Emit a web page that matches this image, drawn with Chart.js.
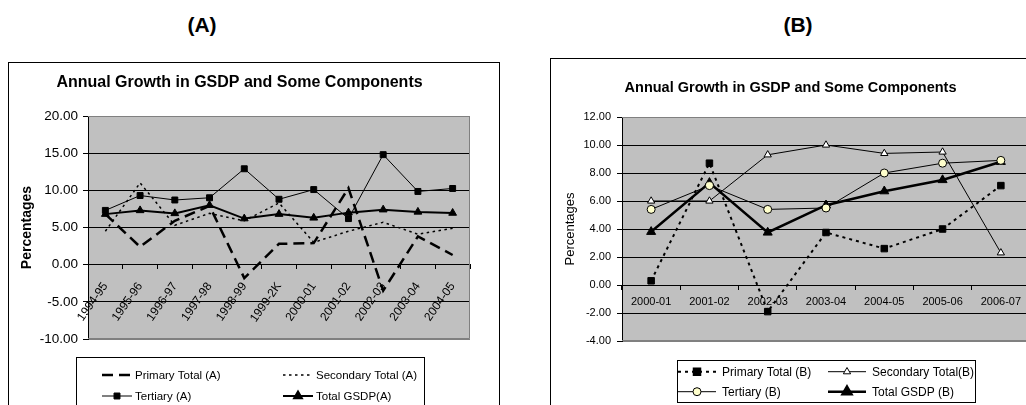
<!DOCTYPE html>
<html>
<head>
<meta charset="utf-8">
<script src="https://cdn.jsdelivr.net/npm/chart.js@4.4.0/dist/chart.umd.min.js"></script>
<style>
  html, body { margin:0; padding:0; background:#fff; width:1026px; height:405px; overflow:hidden; font-family:"Liberation Sans", Arial, sans-serif; }
  .tag { position:absolute; top:13px; width:80px; text-align:center; font-weight:bold; font-size:21px; line-height:24px; }
  .box { position:absolute; border:1px solid #000; background:#fff; }
  .box canvas { display:block; }
</style>
</head>
<body>
<div class="tag" style="left:162px">(A)</div>
<div class="tag" style="left:758px">(B)</div>
<div class="box" style="left:8px; top:62px; width:490px; height:358px;"><canvas id="chartA" width="490" height="358"></canvas></div>
<div class="box" style="left:550px; top:58px; width:489px; height:360px;"><canvas id="chartB" width="489" height="360"></canvas></div>
<script>
// chart (A) values
const catsA = ['1994-95', '1995-96', '1996-97', '1997-98', '1998-99', '1999-2K',
               '2000-01', '2001-02', '2002-03', '2003-04', '2004-05'];
const primaryA   = [6.8, 2.4, 5.9, 7.9, -1.8, 2.8, 2.9, 10.3, -3.5, 3.8, 1.3];
const secondaryA = [4.5, 11.0, 5.3, 6.9, 5.9, 8.3, 3.0, 4.5, 5.7, 4.1, 4.9];
const tertiaryA  = [7.3, 9.3, 8.7, 9.0, 12.9, 8.8, 10.1, 6.2, 14.8, 9.85, 10.25];
const gsdpA      = [6.8, 7.3, 6.9, 8.0, 6.2, 6.8, 6.3, 7.0, 7.4, 7.1, 6.95];
const ticksA = [-10, -5, 0, 5, 10, 15, 20];

// chart (B)
const catsB = ['2000-01', '2001-02', '2002-03', '2003-04', '2004-05', '2005-06', '2006-07'];
const primaryB   = [0.3, 8.7, -1.9, 3.75, 2.6, 4.0, 7.1];
const secondaryB = [6.0, 6.0, 9.3, 10.0, 9.4, 9.5, 2.3];
const tertiaryB  = [5.4, 7.1, 5.4, 5.5, 8.0, 8.7, 8.9];
const gsdpB      = [3.8, 7.3, 3.75, 5.7, 6.7, 7.5, 8.8];
const ticksB = [-4, -2, 0, 2, 4, 6, 8, 10, 12];

Chart.defaults.font.family = '"Liberation Sans", Arial, sans-serif';
Chart.defaults.color = '#000';

// grey plot area with a grey frame, like the spreadsheet chart
const plotFrame = {
    id: 'plotFrame',
    beforeDraw(chart) {
        const {ctx, chartArea: a} = chart;
        ctx.save();
        ctx.fillStyle = '#c0c0c0';
        ctx.fillRect(a.left, a.top, a.right - a.left, a.bottom - a.top);
        ctx.restore();
    },
    beforeDatasetsDraw(chart) {
        const {ctx, chartArea: a} = chart;
        ctx.save();
        ctx.strokeStyle = '#808080';
        ctx.lineWidth = 1;
        ctx.beginPath();
        ctx.moveTo(a.left, a.top + 0.5);
        ctx.lineTo(a.right - 0.5, a.top + 0.5);
        ctx.lineTo(a.right - 0.5, a.bottom - 0.5);
        ctx.lineTo(a.left, a.bottom - 0.5);
        ctx.stroke();
        ctx.restore();
    }
};

// boxed legend with line + marker samples
const boxLegend = {
    id: 'boxLegend',
    afterDraw(chart, args, opts) {
        const ctx = chart.ctx;
        ctx.save();
        ctx.strokeStyle = '#000';
        ctx.lineWidth = 1;
        ctx.setLineDash([]);
        ctx.strokeRect(opts.box[0] + 0.5, opts.box[1] + 0.5, opts.box[2], opts.box[3]);
        ctx.font = opts.fontSize + 'px "Liberation Sans", Arial, sans-serif';
        ctx.textBaseline = 'middle';
        ctx.fillStyle = '#000';
        chart.data.datasets.forEach((ds, i) => {
            const x = opts.cols[i % 2];
            const y = opts.rows[Math.floor(i / 2)];
            ctx.strokeStyle = '#000';
            ctx.lineWidth = ds.borderWidth;
            ctx.setLineDash(ds.borderDash || []);
            ctx.beginPath();
            ctx.moveTo(x, y);
            ctx.lineTo(x + opts.lineLen, y);
            ctx.stroke();
            ctx.setLineDash([]);
            if (ds.pointRadius > 0) {
                ctx.fillStyle = ds.pointBackgroundColor;
                ctx.strokeStyle = ds.pointBorderColor;
                Chart.helpers.drawPoint(ctx, {
                    pointStyle: ds.pointStyle, radius: ds.pointRadius,
                    borderWidth: ds.pointBorderWidth, rotation: 0
                }, x + opts.lineLen / 2, y);
            }
            ctx.fillStyle = '#000';
            ctx.fillText(ds.label, x + opts.lineLen + opts.gap, y + 0.5);
        });
        ctx.restore();
    }
};

function line(label, data, o) {
    return Object.assign({
        label, data,
        borderColor: '#000', backgroundColor: '#000',
        pointBorderColor: '#000', pointBackgroundColor: '#000',
        pointBorderWidth: 1, pointRadius: 0, borderWidth: 1,
        tension: 0, fill: false
    }, o);
}

function yGrid(lo, hi) {
    return {
        color: c => (c.tick && (c.tick.value === lo || c.tick.value === hi)) ? '#808080' : '#000',
        tickColor: '#000', tickLength: 5, lineWidth: 1
    };
}

new Chart(document.getElementById('chartA'), {
    type: 'line',
    data: {
        labels: catsA,
        datasets: [
            line('Primary Total (A)', primaryA, {borderWidth: 2.5, borderDash: [11, 6]}),
            line('Secondary Total (A)', secondaryA, {borderWidth: 1.5, borderDash: [2.5, 3.5]}),
            line('Tertiary (A)', tertiaryA, {pointStyle: 'rect', pointRadius: 4.2}),
            line('Total GSDP(A)', gsdpA, {borderWidth: 2, pointStyle: 'triangle', pointRadius: 4.5})
        ]
    },
    options: {
        responsive: false,
        animation: false,
        devicePixelRatio: 1,
        layout: {padding: {left: 0, right: 29, top: 0, bottom: 82}},
        plugins: {
            legend: {display: false},
            tooltip: {enabled: false},
            title: {
                display: true, text: 'Annual Growth in GSDP and Some Components',
                color: '#000', font: {size: 16, weight: 'bold'},
                padding: {top: 10.4, bottom: 23.4}
            },
            boxLegend: {
                box: [67, 294, 348, 80], cols: [93, 274], rows: [312, 333],
                lineLen: 30, gap: 3, fontSize: 11.5
            }
        },
        scales: {
            x: {
                position: {y: 0}, offset: true,
                grid: {drawOnChartArea: false, drawTicks: true, tickLength: 4, offset: true, tickColor: '#000'},
                border: {display: true, color: '#000'},
                ticks: {color: '#000', font: {size: 12}, minRotation: 55, maxRotation: 55, autoSkip: false, padding: 11}
            },
            y: {
                min: ticksA[0], max: ticksA[ticksA.length - 1],
                afterBuildTicks: s => { s.ticks = ticksA.map(v => ({value: v})); },
                afterFit: s => { s.width = 79; },
                grid: yGrid(ticksA[0], ticksA[ticksA.length - 1]),
                border: {color: '#000'},
                ticks: {color: '#000', font: {size: 13.5}, padding: 5, callback: v => Number(v).toFixed(2)},
                title: {display: true, text: 'Percentages', color: '#000', font: {size: 14, weight: 'bold'}, padding: {top: 9.6}}
            }
        }
    },
    plugins: [plotFrame, boxLegend]
});

new Chart(document.getElementById('chartB'), {
    type: 'line',
    data: {
        labels: catsB,
        datasets: [
            line('Primary Total (B)', primaryB, {borderWidth: 2, borderDash: [3, 4], pointStyle: 'rect', pointRadius: 4.6}),
            line('Secondary Total(B)', secondaryB, {pointStyle: 'triangle', pointRadius: 4.2, pointBackgroundColor: '#fff'}),
            line('Tertiary (B)', tertiaryB, {pointStyle: 'circle', pointRadius: 4, pointBackgroundColor: '#ffffcc'}),
            line('Total GSDP (B)', gsdpB, {borderWidth: 2.5, pointStyle: 'triangle', pointRadius: 5.2})
        ]
    },
    options: {
        responsive: false,
        animation: false,
        devicePixelRatio: 1,
        layout: {padding: {left: 0, right: 10, top: 0, bottom: 78}},
        plugins: {
            legend: {display: false},
            tooltip: {enabled: false},
            title: {
                display: true, text: 'Annual Growth in GSDP and Some Components',
                color: '#000', font: {size: 14.5, weight: 'bold'},
                padding: {top: 20.6, bottom: 20}
            },
            boxLegend: {
                box: [126, 301, 298, 42], cols: [127, 277], rows: [312.7, 332.7],
                lineLen: 38, gap: 6, fontSize: 12
            }
        },
        scales: {
            x: {
                position: {y: 0}, offset: true,
                grid: {drawOnChartArea: false, drawTicks: true, tickLength: 4, offset: true, tickColor: '#000'},
                border: {display: true, color: '#000'},
                ticks: {color: '#000', font: {size: 11}, maxRotation: 0, autoSkip: false, padding: 6}
            },
            y: {
                min: ticksB[0], max: ticksB[ticksB.length - 1],
                afterBuildTicks: s => { s.ticks = ticksB.map(v => ({value: v})); },
                afterFit: s => { s.width = 71; },
                grid: yGrid(ticksB[0], ticksB[ticksB.length - 1]),
                border: {color: '#000'},
                ticks: {color: '#000', font: {size: 11}, padding: 6, callback: v => Number(v).toFixed(2)},
                title: {display: true, text: 'Percentages', color: '#000', font: {size: 13}, padding: {top: 11.2}}
            }
        }
    },
    plugins: [plotFrame, boxLegend]
});
</script>
</body>
</html>
